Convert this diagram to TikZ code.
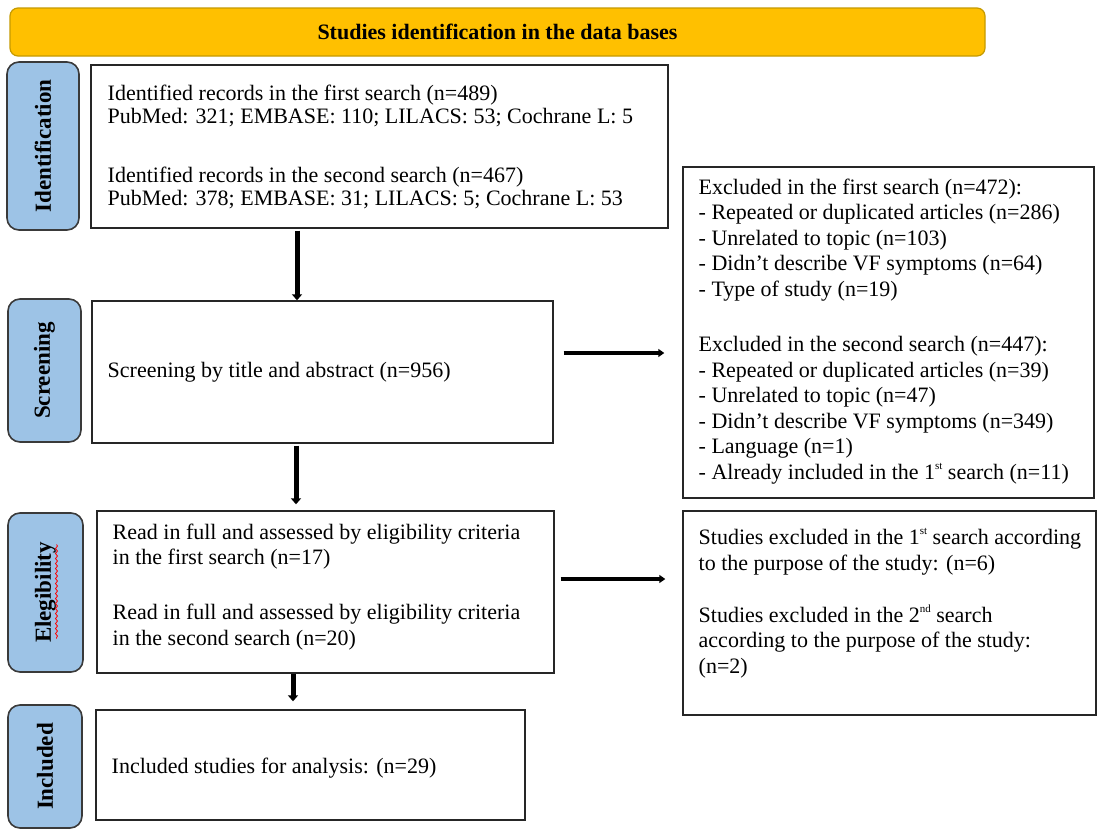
\documentclass[tikz,border=0pt]{standalone}
\usepackage{fontspec}
\setmainfont{Liberation Serif}
\usetikzlibrary{arrows.meta,calc,decorations.pathmorphing}

\definecolor{bannerfill}{HTML}{FFC000}
\definecolor{bannerline}{HTML}{C59A00}
\definecolor{stagefill}{HTML}{9DC3E6}
\definecolor{stageline}{HTML}{3A3A3A}

\newcommand{\ordsup}[1]{\raisebox{0.45em}{\fontsize{5.5}{5.5}\selectfont #1}}

\begin{document}
\begin{tikzpicture}[x=0.5pt, y=-0.5pt,
    every node/.style={font=\fontsize{11}{12.8}\selectfont},
    banner/.style={draw=bannerline, fill=bannerfill, rounded corners=4pt, line width=0.6pt,
        font=\fontsize{11}{12.8}\selectfont\bfseries},
    stage/.style={draw=stageline, fill=stagefill, rounded corners=6pt, line width=0.8pt,
        rotate=90, font=\fontsize{11.5}{12.8}\selectfont\bfseries},
    stepbox/.style={draw=black!85, line width=0.7pt},
    boxtext/.style={align=left, inner sep=0pt},
    down/.style={line width=2.5pt, -{Triangle[length=3pt,width=5pt]}},
    side/.style={line width=1.6pt, -{Triangle[length=3pt,width=4pt]}}
]
\useasboundingbox (0,0) rectangle (1097,830);

% banner and stage labels
\node[banner, minimum width=487.5pt, minimum height=24pt] (top) at (497.5,32) {Studies identification in the data bases};
\node[stage, minimum width=84pt, minimum height=36pt] (lident) at (43,146) {Identification};
\node[stage, minimum width=71.5pt, minimum height=36.5pt] (lscreen) at (44.5,370.5) {Screening};
\node[stage, minimum width=79.5pt, minimum height=37.5pt] (lelig) at (45.5,592.5) {Elegibility};
\node[stage, minimum width=61.5pt, minimum height=37pt] (lincl) at (45,766.5) {Included};
\draw[red, line width=0.4pt, decorate, decoration={snake, amplitude=0.5pt, segment length=2.5pt}]
    ($(lelig.center)+(11,-48)$) -- ($(lelig.center)+(11,46)$);

% main boxes
\node[stepbox, minimum width=288.5pt, minimum height=81.5pt] (box1) at (379.5,146.5) {};
\node[stepbox, minimum width=230.5pt, minimum height=71pt] (box2) at (322.5,372) {};
\node[stepbox, minimum width=228.5pt, minimum height=81pt] (box3) at (325.5,592) {};
\node[stepbox, minimum width=214.5pt, minimum height=55pt] (box4) at (310.5,765) {};
\node[stepbox, minimum width=205.5pt, minimum height=165.5pt] (exc1) at (888.5,332.5) {};
\node[stepbox, minimum width=206.5pt, minimum height=102pt] (exc2) at (889.5,613) {};

% box texts
\node[boxtext, anchor=west, font=\fontsize{11}{11.5}\selectfont] (box1txt) at ($(box1.west)+(17,0)$)
    {Identified records in the first search (n=489)\\
     PubMed: 321; EMBASE: 110; LILACS: 53; Cochrane L: 5\\[18pt]
     Identified records in the second search (n=467)\\
     PubMed: 378; EMBASE: 31; LILACS: 5; Cochrane L: 53};
\node[boxtext, anchor=west] (box2txt) at ($(box2.west)+(16,0)$)
    {Screening by title and abstract (n=956)};
\node[boxtext, anchor=west] (box3txt) at ($(box3.west)+(16,-5)$)
    {Read in full and assessed by eligibility criteria\\
     in the first search (n=17)\\[14.7pt]
     Read in full and assessed by eligibility criteria\\
     in the second search (n=20)};
\node[boxtext, anchor=west] (box4txt) at ($(box4.west)+(16,3)$)
    {Included studies for analysis: (n=29)};
\node[boxtext, anchor=west] (exc1txt) at ($(exc1.west)+(16,-1)$)
    {Excluded in the first search (n=472):\\
     - Repeated or duplicated articles (n=286)\\
     - Unrelated to topic (n=103)\\
     - Didn’t describe VF symptoms (n=64)\\
     - Type of study (n=19)\\[14.7pt]
     Excluded in the second search (n=447):\\
     - Repeated or duplicated articles (n=39)\\
     - Unrelated to topic (n=47)\\
     - Didn’t describe VF symptoms (n=349)\\
     - Language (n=1)\\
     - Already included in the 1\ordsup{st} search (n=11)};
\node[boxtext, anchor=north west] (exc2txt) at ($(exc2.north west)+(16,18)$)
    {Studies excluded in the 1\ordsup{st} search according\\
     to the purpose of the study: (n=6)\\[13pt]
     Studies excluded in the 2\ordsup{nd} search\\
     according to the purpose of the study:\\
     (n=2)};

% connectors
\coordinate (c1) at (297,0);
\coordinate (c2) at (296,0);
\coordinate (c3) at (293,0);
\coordinate (h1) at (0,353);
\coordinate (h2) at (0,579);
\draw[down, shorten <=1pt] (box1.south -| c1) -- (box2.north -| c1);
\draw[down, shorten <=1pt, shorten >=3pt] (box2.south -| c2) -- (box3.north -| c2);
\draw[down, shorten >=4pt] (box3.south -| c3) -- (box4.north -| c3);
\draw[side, shorten <=5pt, shorten >=9pt] (box2.east |- h1) -- (exc1.west |- h1);
\draw[side, shorten <=3pt, shorten >=8.5pt] (box3.east |- h2) -- (exc2.west |- h2);
\end{tikzpicture}
\end{document}
